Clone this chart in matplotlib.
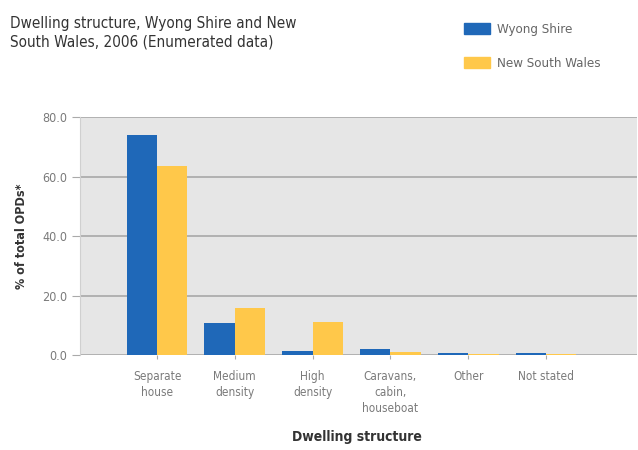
import matplotlib.pyplot as plt
import numpy as np
from matplotlib.patches import Patch

# Dwelling structure shares, % of total occupied private dwellings
categories = ["Separate\nhouse", "Medium\ndensity", "High\ndensity",
              "Caravans,\ncabin,\nhouseboat", "Other", "Not stated"]
wyong = [73.8, 10.8, 1.5, 1.9, 0.7, 0.6]
nsw = [63.4, 15.7, 11.2, 1.0, 0.3, 0.4]
y_ticks = [0, 20, 40, 60, 80]

blue = "#1f68b8"
yellow = "#ffc84a"
grey_txt = "#7a7a7a"

plt.rcParams['font.family'] = ['DejaVu Sans']
plt.rcParams['font.stretch'] = 'condensed'

fig = plt.figure(figsize=(6.38, 4.5), dpi=100)
ax = fig.add_axes([0.1254, 0.211, 0.8730, 0.529])

x = np.arange(len(categories))
w = 0.39
ax.bar(x - w / 2, wyong, w, color=blue, zorder=3)
ax.bar(x + w / 2, nsw, w, color=yellow, zorder=3)

ax.set_facecolor("#e6e6e6")
ax.set_xlim(-0.99, 6.17)
ax.set_ylim(0, 80)
ax.set_yticks(y_ticks)
ax.set_yticklabels([f"{v:.1f}" for v in y_ticks], color=grey_txt, fontsize=9)
ax.yaxis.grid(True, color="#a8a8a8", linewidth=1.2, zorder=1)
ax.set_xticks(x)
ax.set_xticklabels(categories, color=grey_txt, fontsize=8.5, linespacing=1.3)
ax.tick_params(axis="y", length=6, color="#aaaaaa", pad=3)
ax.tick_params(axis="x", length=3, color="#aaaaaa", pad=8)
for side in ["top", "right", "bottom"]:
    ax.spines[side].set_visible(False)
ax.spines["left"].set_color("#d0d0d0")

ax.set_ylabel("% of total OPDs*", fontsize=9, fontweight="bold", color="#333333",
              labelpad=10)
fig.text(0.56, 0.028, "Dwelling structure", fontsize=10, fontweight="bold",
         color="#333333", ha="center", va="center")

fig.text(0.016, 0.965, "Dwelling structure, Wyong Shire and New\nSouth Wales, 2006 (Enumerated data)",
         fontsize=11, color="#333333", va="top", ha="left", linespacing=1.3)

handles = [Patch(color=blue, label="Wyong Shire"), Patch(color=yellow, label="New South Wales")]
fig.legend(handles=handles, loc="upper left", bbox_to_anchor=(0.708, 0.975), frameon=False,
           fontsize=9.5, labelcolor="#666666", handlelength=2.0, handleheight=0.9,
           labelspacing=1.55, handletextpad=0.5)

fig.savefig("out.png", dpi=100)
